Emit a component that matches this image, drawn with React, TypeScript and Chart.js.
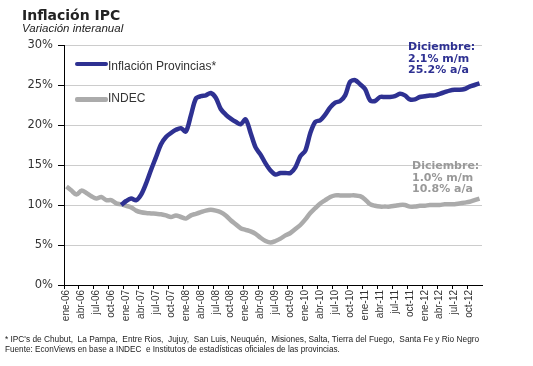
import React, { useEffect, useRef } from 'react';
import { Chart, registerables } from 'chart.js';

Chart.register(...registerables);

// ---- data ----
const MONTHS = ['ene', 'feb', 'mar', 'abr', 'may', 'jun', 'jul', 'ago', 'sep', 'oct', 'nov', 'dic'];
const YEARS = ['06', '07', '08', '09', '10', '11', '12'];
const LABELS = YEARS.flatMap((y) => MONTHS.map((m) => `${m}-${y}`));
const Y_TICK_STEP = 5;
const Y_MIN = 0;
const Y_MAX = 30;

const PROVINCIAS: (number | null)[] = [
  null, null, null, null, null, null, null, null, null, null, null, 10.0,
  10.5, 10.8, 10.6, 11.3, 12.7, 14.4, 16.0, 17.6, 18.5, 19.0, 19.4, 19.6,
  19.2, 21.2, 23.3, 23.6, 23.7, 24.0, 23.4, 22.0, 21.3, 20.8, 20.4, 20.1,
  20.7, 19.0, 17.2, 16.3, 15.2, 14.3, 13.8, 14.0, 14.0, 14.0, 14.7, 16.1,
  16.8, 19.0, 20.4, 20.6, 21.3, 22.2, 22.8, 23.0, 23.7, 25.4, 25.6, 25.1,
  24.5, 23.1, 23.0, 23.5, 23.5, 23.5, 23.6, 23.9, 23.7, 23.2, 23.2, 23.5,
  23.6, 23.7, 23.7, 23.9, 24.1, 24.3, 24.4, 24.4, 24.5, 24.8, 25.0, 25.2,
];

const INDEC: number[] = [
  12.3, 11.8, 11.3, 11.8, 11.5, 11.1, 10.8, 11.0, 10.6, 10.6, 10.2, 10.1,
  9.9, 9.7, 9.3, 9.1, 9.0, 8.95, 8.9, 8.85, 8.7, 8.5, 8.7, 8.5,
  8.3, 8.7, 8.9, 9.1, 9.3, 9.4, 9.3, 9.1, 8.7, 8.1, 7.6, 7.1,
  6.9, 6.7, 6.4, 5.9, 5.5, 5.3, 5.5, 5.8, 6.2, 6.5, 7.0, 7.5,
  8.2, 9.0, 9.6, 10.2, 10.6, 11.0, 11.2, 11.2, 11.2, 11.2, 11.2, 11.1,
  10.7, 10.1, 9.9, 9.8, 9.8, 9.8, 9.9, 10.0, 10.0, 9.8, 9.8, 9.9,
  9.9, 10.0, 10.0, 10.0, 10.1, 10.1, 10.1, 10.2, 10.3, 10.4, 10.6, 10.8,
];

const BLUE = '#2e3192';
const GRAY = '#ababab';

type TextProps = {
  x: number;
  baseline: number;
  size: number;
  family: string;
  weight?: string | number;
  italic?: boolean;
  color: string;
  children: React.ReactNode;
};

function Txt({ x, baseline, size, family, weight, italic, color, children }: TextProps) {
  return (
    <div
      style={{
        position: 'absolute',
        left: x,
        top: baseline - 0.846 * size,
        fontSize: size,
        lineHeight: `${size}px`,
        fontFamily: family,
        fontWeight: weight ?? 'normal',
        fontStyle: italic ? 'italic' : 'normal',
        color,
        whiteSpace: 'pre',
      }}
    >
      {children}
    </div>
  );
}

export default function App() {
  const ref = useRef<HTMLCanvasElement>(null);

  useEffect(() => {
    if (!ref.current) return;
    const chart = new Chart(ref.current, {
      type: 'line',
      data: {
        labels: LABELS,
        datasets: [
          {
            label: 'Inflación Provincias*',
            data: PROVINCIAS,
            borderColor: BLUE,
            backgroundColor: BLUE,
            borderWidth: 4.5,
            pointRadius: 0,
            tension: 0.3,
            spanGaps: false,
          },
          {
            label: 'INDEC',
            data: INDEC,
            borderColor: GRAY,
            backgroundColor: GRAY,
            borderWidth: 4.5,
            pointRadius: 0,
            tension: 0.3,
          },
        ],
      },
      options: {
        animation: false,
        responsive: false,
        maintainAspectRatio: false,
        layout: { padding: { top: 45, right: 51, bottom: 0, left: 0 } },
        plugins: { legend: { display: false }, tooltip: { enabled: false } },
        scales: {
          x: {
            type: 'category',
            offset: true,
            grid: {
              offset: true,
              drawOnChartArea: false,
              tickLength: 4,
              tickColor: (c: any) => (c.index % 3 === 0 ? '#000' : 'rgba(0,0,0,0)'),
            },
            border: { color: '#000', width: 1 },
            ticks: {
              autoSkip: false,
              maxRotation: 90,
              minRotation: 90,
              padding: 1,
              color: '#333',
              font: { family: 'Liberation Sans', size: 10 },
              callback: (_v: any, i: number) => (i % 3 === 0 ? LABELS[i] : ''),
            },
            afterFit: (s: any) => {
              s.height = 81;
            },
          },
          y: {
            min: Y_MIN,
            max: Y_MAX,
            grid: { color: '#cccccc', tickColor: '#000', tickLength: 6 },
            border: { color: '#000', width: 1 },
            ticks: {
              stepSize: Y_TICK_STEP,
              padding: 5,
              color: '#333',
              font: { family: 'DejaVu Sans', size: 11.5 },
              callback: (v: any) => `${v}%`,
            },
            afterFit: (s: any) => {
              s.width = 64;
            },
          },
        },
      },
    });
    return () => chart.destroy();
  }, []);

  return (
    <div style={{ position: 'fixed', left: 0, top: 0, width: 533, height: 366, background: '#fff', overflow: 'hidden' }}>
      <canvas ref={ref} width={533} height={366} style={{ position: 'absolute', left: 0, top: 0, width: 533, height: 366 }} />
      <Txt x={22} baseline={19.5} size={14} family="DejaVu Sans" weight="bold" color="#222">Inflación IPC</Txt>
      <Txt x={22} baseline={33} size={11.5} family="Liberation Sans" italic color="#222">Variación interanual</Txt>

      <div style={{ position: 'absolute', left: 75, top: 61.5, width: 33, height: 4, background: BLUE, borderRadius: 2 }} />
      <Txt x={108} baseline={70} size={12} family="Liberation Sans" color="#333">Inflación Provincias*</Txt>
      <div style={{ position: 'absolute', left: 75, top: 97, width: 33, height: 4.5, background: GRAY, borderRadius: 2 }} />
      <Txt x={108} baseline={102.5} size={12} family="Liberation Sans" color="#333">INDEC</Txt>

      <Txt x={408} baseline={50.5} size={11} family="DejaVu Sans" weight="bold" color={BLUE}>Diciembre:</Txt>
      <Txt x={408} baseline={62} size={11} family="DejaVu Sans" weight="bold" color={BLUE}>2.1% m/m</Txt>
      <Txt x={408} baseline={73.5} size={11} family="DejaVu Sans" weight="bold" color={BLUE}>25.2% a/a</Txt>

      <Txt x={412} baseline={169.5} size={11} family="DejaVu Sans" weight="bold" color="#999">Diciembre:</Txt>
      <Txt x={412} baseline={181} size={11} family="DejaVu Sans" weight="bold" color="#999">1.0% m/m</Txt>
      <Txt x={412} baseline={192.5} size={11} family="DejaVu Sans" weight="bold" color="#999">10.8% a/a</Txt>

      <Txt x={5} baseline={342} size={8.3} family="Liberation Sans" color="#222">
        {"* IPC's de Chubut,  La Pampa,  Entre Rios,  Jujuy,  San Luis, Neuquén,  Misiones, Salta, Tierra del Fuego,  Santa Fe y Rio Negro"}
      </Txt>
      <Txt x={5} baseline={353} size={8.2} family="Liberation Sans" color="#222">
        {'Fuente: EconViews en base a INDEC  e Institutos de estadísticas oficiales de las provincias.'}
      </Txt>
    </div>
  );
}
